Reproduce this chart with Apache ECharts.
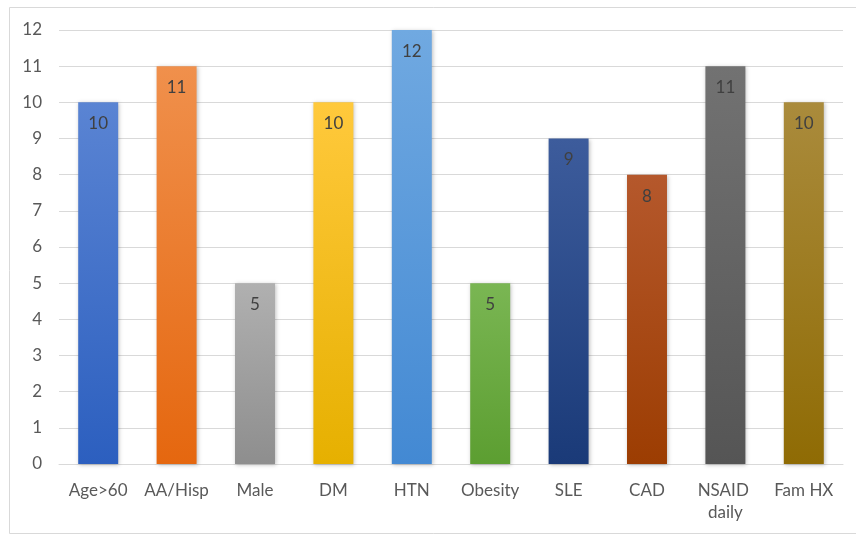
<!DOCTYPE html>
<html>
<head>
<meta charset="utf-8">
<script src="https://cdn.jsdelivr.net/npm/echarts@6/dist/echarts.min.js"></script>
<style>
  html, body { margin: 0; padding: 0; background: #ffffff; }
  #chart { width: 856px; height: 535px; }
</style>
</head>
<body>
<div id="chart"></div>
<script>
// Risk factor counts
const categories = ['Age>60', 'AA/Hisp', 'Male', 'DM', 'HTN', 'Obesity', 'SLE', 'CAD', 'NSAID daily', 'Fam HX'];
const counts = [10, 11, 5, 10, 12, 5, 9, 8, 11, 10];
const yTicks = [0, 1, 2, 3, 4, 5, 6, 7, 8, 9, 10, 11, 12];

// Per-bar gradient stops (top, bottom)
const barTopColors = ['#5a84d3', '#f0904c', '#b0b0b0', '#ffc93c', '#70a9e1', '#7ab653', '#3d5c9c', '#b5582c', '#727272', '#aa8b3c'];
const barBottomColors = ['#2c5fbf', '#e5670f', '#8e8e8e', '#e6b000', '#4389d3', '#5c9e31', '#1a3a78', '#9c3d02', '#555555', '#8f6b04'];

const chart = echarts.init(document.getElementById('chart'), null, { renderer: 'canvas' });

const seriesData = counts.map((v, i) => ({
  value: v,
  itemStyle: {
    color: new echarts.graphic.LinearGradient(0, 0, 0, 1, [
      { offset: 0, color: barTopColors[i] },
      { offset: 1, color: barBottomColors[i] }
    ]),
    shadowColor: 'rgba(0,0,0,0.25)',
    shadowBlur: 4,
    shadowOffsetX: 1,
    shadowOffsetY: 1
  }
}));

chart.setOption({
  backgroundColor: '#ffffff',
  animation: false,
  textStyle: { fontFamily: 'Lato, Carlito, "Open Sans", sans-serif' },
  graphic: [{
    type: 'rect',
    silent: true,
    z: -10,
    shape: { x: 9.5, y: 7.5, width: 860, height: 526 },
    style: { fill: '#ffffff', stroke: '#d9d9d9', lineWidth: 1 }
  }],
  grid: { left: 59, right: 13, top: 30, bottom: 71, containLabel: false },
  xAxis: {
    type: 'category',
    data: categories,
    axisLine: { show: true, lineStyle: { color: '#d9d9d9', width: 1 } },
    axisTick: { show: false },
    axisLabel: {
      color: '#595959',
      fontSize: 17,
      margin: 16,
      lineHeight: 22,
      width: 70,
      overflow: 'break',
      interval: 0
    }
  },
  yAxis: {
    type: 'value',
    min: yTicks[0],
    max: yTicks[yTicks.length - 1],
    interval: 1,
    axisLine: { show: false },
    axisTick: { show: false },
    axisLabel: { color: '#595959', fontSize: 17, margin: 17 },
    splitLine: { lineStyle: { color: '#d9d9d9', width: 1 } }
  },
  series: [{
    type: 'bar',
    data: seriesData,
    barCategoryGap: '49%',
    label: {
      show: true,
      position: 'insideTop',
      distance: 13,
      color: '#404040',
      fontSize: 17
    }
  }]
});
</script>
</body>
</html>
